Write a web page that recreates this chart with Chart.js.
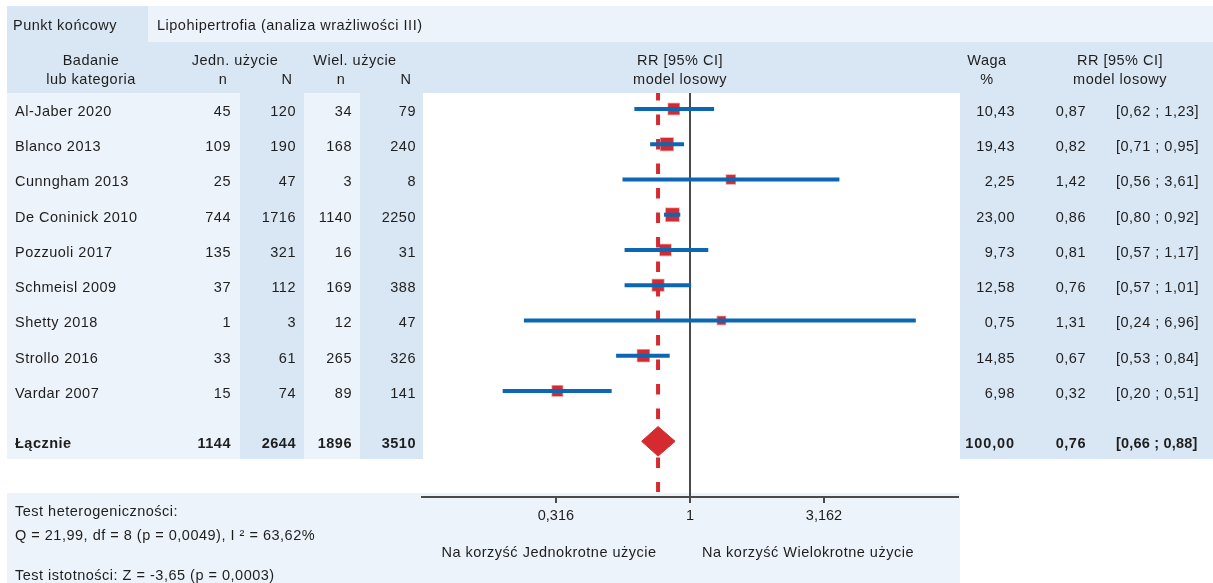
<!DOCTYPE html>
<html>
<head>
<meta charset="utf-8">
<title>Lipohipertrofia – forest plot</title>
<script src="https://cdn.jsdelivr.net/npm/chart.js@4/dist/chart.umd.min.js"></script>
<style>
  html, body { margin: 0; padding: 0; background: #fff; }
  #wrap { width: 1213px; height: 583px; }
</style>
</head>
<body>
<div id="wrap"><canvas id="forest" width="1213" height="583"></canvas></div>
<script>
// ---- data ----
const endpointLabel = 'Punkt końcowy';
const endpointName = 'Lipohipertrofia (analiza wrażliwości III)';
const studies = ['Al-Jaber 2020', 'Blanco 2013', 'Cunngham 2013', 'De Coninick 2010', 'Pozzuoli 2017',
                 'Schmeisl 2009', 'Shetty 2018', 'Strollo 2016', 'Vardar 2007'];
const singleEvents = [45, 109, 25, 744, 135, 37, 1, 33, 15];
const singleTotal  = [120, 190, 47, 1716, 321, 112, 3, 61, 74];
const multiEvents  = [34, 168, 3, 1140, 16, 169, 12, 265, 89];
const multiTotal   = [79, 240, 8, 2250, 31, 388, 47, 326, 141];
const weights = [10.43, 19.43, 2.25, 23.00, 9.73, 12.58, 0.75, 14.85, 6.98];
const rr      = [0.87, 0.82, 1.42, 0.86, 0.81, 0.76, 1.31, 0.67, 0.32];
const ciLow   = [0.62, 0.71, 0.56, 0.80, 0.57, 0.57, 0.24, 0.53, 0.20];
const ciHigh  = [1.23, 0.95, 3.61, 0.92, 1.17, 1.01, 6.96, 0.84, 0.51];

const pooledLabel = 'Łącznie';
const pooledCounts = [1144, 2644, 1896, 3510];
const pooledWeight = 100;
const pooledRR = 0.76;
const pooledLow = 0.66;
const pooledHigh = 0.88;

const axisTicks = [0.316, 1, 3.162];
const favourLeft = 'Na korzyść Jednokrotne użycie';
const favourRight = 'Na korzyść Wielokrotne użycie';
const heterogeneityText = ['Test heterogeniczności:', 'Q = 21,99, df = 8 (p = 0,0049), I ² = 63,62%'];
const significanceText = 'Test istotności: Z = -3,65 (p = 0,0003)';

// ---- look ----
const W = 1213, H = 583;
const FF = '"Liberation Sans", Arial, sans-serif';
const FS = 14.5;
const INK = '#1e1e1e';
const RED = '#d42a30';
const BLUE = '#0b67b4';
const GREY = '#4a4a4a';
const LIGHT = '#edf3fa';
const DARK = '#d9e6f3';
const PLOT_LEFT = 422, PLOT_RIGHT = 958, PLOT_TOP = 93, PLOT_BOTTOM = 497;
const Y_MIN = -0.454, Y_MAX = 11.01;
const pooledRow = 9.43;
const pooledLineEnd = 10.87;
const diamondHalf = 0.42;

const fmt = v => v.toFixed(2).replace('.', ',');
const squareSide = w => 7 + 6 * Math.sqrt(w / 23);

// ---- datasets ----
const ciSets = studies.map((s, i) => ({
  label: s,
  data: [{ x: ciLow[i], y: i }, { x: ciHigh[i], y: i }],
  borderColor: BLUE,
  borderWidth: 4,
  borderCapStyle: 'butt',
  pointRadius: 0,
  order: 1
}));

const squareSet = {
  label: 'RR',
  data: rr.map((v, i) => ({ x: v, y: i })),
  showLine: false,
  pointStyle: 'rect',
  pointRadius: weights.map(w => squareSide(w) / Math.SQRT2),
  backgroundColor: RED,
  borderColor: 'rgba(212,42,48,0.45)',
  borderWidth: 1.5,
  order: 2
};

const diamondSet = {
  label: pooledLabel,
  data: [
    { x: pooledLow, y: pooledRow },
    { x: pooledRR, y: pooledRow - diamondHalf },
    { x: pooledHigh, y: pooledRow },
    { x: pooledRR, y: pooledRow + diamondHalf },
    { x: pooledLow, y: pooledRow }
  ],
  borderColor: RED,
  borderWidth: 1,
  backgroundColor: RED,
  fill: 'shape',
  pointRadius: 0,
  tension: 0,
  order: 2
};

const nullLine = {
  label: 'null',
  data: [{ x: 1, y: Y_MIN }, { x: 1, y: Y_MAX }],
  borderColor: GREY,
  borderWidth: 2,
  pointRadius: 0,
  order: 3
};

const pooledLine = {
  label: 'pooled',
  data: [{ x: pooledRR, y: Y_MIN }, { x: pooledRR, y: pooledLineEnd }],
  borderColor: RED,
  borderWidth: 4,
  borderDash: [10.5, 14],
  borderDashOffset: 3,
  pointRadius: 0,
  order: 4
};

// ---- panels behind the chart ----
const panels = {
  id: 'panels',
  beforeDraw(chart) {
    const ctx = chart.ctx;
    ctx.save();
    ctx.fillStyle = '#fff';
    ctx.fillRect(0, 0, W, H);
    ctx.fillStyle = DARK;  ctx.fillRect(7, 6, 141, 36);
    ctx.fillStyle = LIGHT; ctx.fillRect(148, 6, W - 148, 36);
    ctx.fillStyle = DARK;  ctx.fillRect(7, 42, W - 7, 51);
    ctx.fillStyle = LIGHT; ctx.fillRect(7, 93, 416, 366);
    ctx.fillStyle = DARK;  ctx.fillRect(240, 93, 64, 366);
    ctx.fillRect(360, 93, 63, 366);
    ctx.fillRect(960, 93, W - 960, 366);
    ctx.fillStyle = LIGHT; ctx.fillRect(7, 493, 953, 90);
    ctx.restore();
  }
};

// ---- table text ----
function put(ctx, s, x, y, align, bold, spacing) {
  ctx.font = (bold ? 'bold ' : '') + FS + 'px ' + FF;
  ctx.textAlign = align || 'left';
  if ('letterSpacing' in ctx) ctx.letterSpacing = (spacing === undefined ? 0.5 : spacing) + 'px';
  ctx.fillText(s, x, y);
}

const tableText = {
  id: 'tableText',
  afterDraw(chart) {
    const ctx = chart.ctx;
    const ys = chart.scales.y;
    ctx.save();
    ctx.fillStyle = INK;
    ctx.textBaseline = 'alphabetic';

    put(ctx, endpointLabel, 13, 30);
    put(ctx, endpointName, 157, 30);

    const h1 = 65, h2 = 84;
    put(ctx, 'Badanie', 91, h1, 'center');
    put(ctx, 'lub kategoria', 91, h2, 'center');
    put(ctx, 'Jedn. użycie', 235, h1, 'center');
    put(ctx, 'Wiel. użycie', 355, h1, 'center');
    put(ctx, 'n', 223, h2, 'center');
    put(ctx, 'N', 287, h2, 'center');
    put(ctx, 'n', 341, h2, 'center');
    put(ctx, 'N', 406, h2, 'center');
    put(ctx, 'RR [95% CI]', 680, h1, 'center');
    put(ctx, 'model losowy', 680, h2, 'center');
    put(ctx, 'Waga', 987, h1, 'center');
    put(ctx, '%', 987, h2, 'center');
    put(ctx, 'RR [95% CI]', 1120, h1, 'center');
    put(ctx, 'model losowy', 1120, h2, 'center');

    const row = (cells, y, bold) => {
      put(ctx, cells[0], 15, y, 'left', bold);
      put(ctx, String(cells[1]), 231, y, 'right', bold);
      put(ctx, String(cells[2]), 296, y, 'right', bold);
      put(ctx, String(cells[3]), 352, y, 'right', bold);
      put(ctx, String(cells[4]), 416, y, 'right', bold);
      put(ctx, cells[5], 1015, y, 'right', bold, bold ? 0.9 : 0.5);
      put(ctx, cells[6], 1086, y, 'right', bold);
      put(ctx, cells[7], 1116, y, 'left', bold, bold ? 0.2 : 0.5);
    };
    studies.forEach((s, i) => {
      const y = ys.getPixelForValue(i) + 7;
      row([s, singleEvents[i], singleTotal[i], multiEvents[i], multiTotal[i],
           fmt(weights[i]), fmt(rr[i]), '[' + fmt(ciLow[i]) + ' ; ' + fmt(ciHigh[i]) + ']'], y, false);
    });
    const yp = ys.getPixelForValue(pooledRow) + 7;
    row([pooledLabel, ...pooledCounts, fmt(pooledWeight), fmt(pooledRR),
         '[' + fmt(pooledLow) + ' ; ' + fmt(pooledHigh) + ']'], yp, true);

    put(ctx, favourLeft, 549, 557, 'center');
    put(ctx, favourRight, 808, 557, 'center');

    put(ctx, heterogeneityText[0], 15, 516);
    put(ctx, heterogeneityText[1], 15, 540);
    put(ctx, significanceText, 15, 580);
    ctx.restore();
  }
};

new Chart(document.getElementById('forest'), {
  type: 'line',
  data: { datasets: [...ciSets, squareSet, diamondSet, nullLine, pooledLine] },
  options: {
    responsive: false,
    devicePixelRatio: 1,
    animation: false,
    events: [],
    layout: { padding: { left: PLOT_LEFT, right: W - PLOT_RIGHT, top: PLOT_TOP, bottom: 0 } },
    plugins: { legend: { display: false }, tooltip: { enabled: false } },
    scales: {
      x: {
        type: 'logarithmic',
        min: 0.1,
        max: 10,
        afterBuildTicks: s => { s.ticks = axisTicks.map(v => ({ value: v })); },
        afterFit: s => { s.height = H - PLOT_BOTTOM; },
        ticks: {
          autoSkip: false,
          maxRotation: 0,
          padding: 4,
          color: INK,
          font: { family: FF, size: FS },
          callback: v => String(v).replace('.', ',')
        },
        grid: { drawOnChartArea: false, drawTicks: true, tickLength: 6, color: GREY, lineWidth: 2 },
        border: { display: true, color: GREY, width: 2 }
      },
      y: {
        type: 'linear',
        reverse: true,
        min: Y_MIN,
        max: Y_MAX,
        display: false
      }
    }
  },
  plugins: [panels, tableText]
});
</script>
</body>
</html>
